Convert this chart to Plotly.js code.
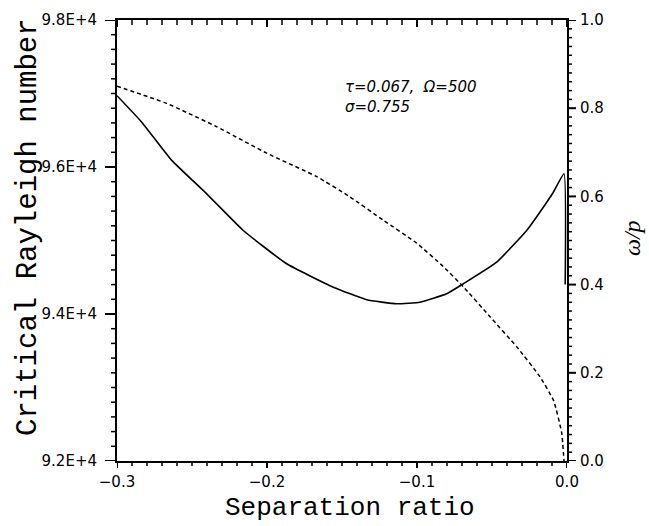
<!DOCTYPE html>
<html><head><meta charset="utf-8">
<script src="https://cdn.plot.ly/plotly-3.0.1.min.js"></script>
<style>html,body{margin:0;padding:0;background:#fff}</style>
</head><body>
<div id="chart" style="width:649px;height:526px"></div>
<script>
// Critical Rayleigh number vs separation ratio (solid, left axis)
const sepRayleigh = [-0.3, -0.2835, -0.2635, -0.2402, -0.2158, -0.1869, -0.1558, -0.1335, -0.1135, -0.098, -0.0802, -0.0691, -0.0469, -0.0269, -0.0135, -0.0091, -0.002, -0.0012];
const rayleigh    = [96970, 96610, 96090, 95635, 95136, 94683, 94365, 94193, 94139, 94161, 94275, 94411, 94705, 95136, 95521, 95657, 95907, 94400];
// Frequency ratio omega/p vs separation ratio (dashed, right axis)
const sepFreq   = [-0.3, -0.2669, -0.2335, -0.2002, -0.1669, -0.1447, -0.1225, -0.1002, -0.0825, -0.0691, -0.0513, -0.0335, -0.018, -0.0088, -0.0035, -0.002];
const freqRatio = [0.850, 0.811, 0.758, 0.698, 0.645, 0.599, 0.546, 0.494, 0.441, 0.395, 0.327, 0.259, 0.191, 0.136, 0.063, 0.0];

// Tick label texts for the Rayleigh axis
const raTickLabels = {'92000': '9.2E+4', '94000': '9.4E+4', '96000': '9.6E+4', '98000': '9.8E+4'};

const tickFont = {family: 'DejaVu Sans', size: 15, color: '#000'};
const hiddenTick = 'rgba(0,0,0,0)';

// Tick marks (axis decoration) built on the axes' own scales
function steps(a, b, s) { const out = []; const n = Math.round((b - a) / s); for (let i = 0; i <= n; i++) out.push({v: a + i * s, major: i % 10 === 0}); return out; }
const shapes = [];
const tw = t => (t.major ? 2 : 1.5);
steps(-0.3, 0, 0.01).forEach(t => {
  shapes.push({type: 'line', xref: 'x', yref: 'paper', ysizemode: 'pixel', yanchor: 0,
    x0: t.v, x1: t.v, y0: 0, y1: t.major ? -7 : -5, line: {color: '#000', width: tw(t)}});
  shapes.push({type: 'line', xref: 'x', yref: 'paper', ysizemode: 'pixel', yanchor: 1,
    x0: t.v, x1: t.v, y0: 0, y1: t.major ? -7 : -5, line: {color: '#000', width: tw(t)}});
});
steps(92000, 98000, 200).forEach(t => {
  shapes.push({type: 'line', xref: 'paper', yref: 'y', xsizemode: 'pixel', xanchor: 0,
    y0: t.v, y1: t.v, x0: 0, x1: t.major ? -12 : -6, line: {color: '#000', width: tw(t)}});
});
steps(0, 1, 0.02).forEach(t => {
  shapes.push({type: 'line', xref: 'paper', yref: 'y2', xsizemode: 'pixel', xanchor: 1,
    y0: t.v, y1: t.v, x0: 0, x1: t.major ? 9 : 5, line: {color: '#000', width: tw(t)}});
});

const traces = [
  {x: sepRayleigh, y: rayleigh, xaxis: 'x', yaxis: 'y', mode: 'lines',
   line: {color: '#000', width: 1.6, shape: 'spline', smoothing: 0.4}, showlegend: false, hoverinfo: 'skip'},
  {x: sepFreq, y: freqRatio, xaxis: 'x', yaxis: 'y2', mode: 'lines',
   line: {color: '#000', width: 1.5, dash: '4px,3px', shape: 'spline', smoothing: 0.4}, showlegend: false, hoverinfo: 'skip'}
];

const layout = {
  width: 649, height: 526,
  margin: {l: 117, r: 82, t: 20, b: 65},
  paper_bgcolor: '#fff', plot_bgcolor: '#fff',
  font: {family: 'DejaVu Sans', color: '#000'},
  xaxis: {range: [-0.3, 0.0], dtick: 0.1, tick0: 0, tickformat: '.1f',
    ticks: 'outside', ticklen: 6, tickcolor: hiddenTick,
    showgrid: false, zeroline: false, showline: true, mirror: true, linecolor: 'black', linewidth: 2,
    tickfont: tickFont},
  yaxis: {range: [92000, 98000], dtick: 2000, tick0: 92000, tickformat: 'd',
    ticks: 'outside', ticklen: 15, tickcolor: hiddenTick,
    labelalias: raTickLabels,
    showgrid: false, zeroline: false, showline: true, linecolor: 'black', linewidth: 2,
    tickfont: tickFont},
  yaxis2: {range: [0, 1], overlaying: 'y', side: 'right', anchor: 'x', dtick: 0.2, tick0: 0, tickformat: '.1f',
    ticks: 'outside', ticklen: 8, tickcolor: hiddenTick,
    showgrid: false, zeroline: false, showline: true, linecolor: 'black', linewidth: 2,
    tickfont: tickFont},
  shapes: shapes,
  annotations: [
    {text: 'Separation ratio', xref: 'paper', yref: 'paper', x: (350-117)/450, y: (461-508)/441,
     xanchor: 'center', yanchor: 'middle', showarrow: false,
     font: {family: 'Liberation Mono', size: 26, color: '#000'}},
    {text: 'Critical Rayleigh number', xref: 'paper', yref: 'paper', x: (29-117)/450, y: (461-227)/441,
     xanchor: 'center', yanchor: 'middle', showarrow: false, textangle: -90,
     font: {family: 'Liberation Mono', size: 29, color: '#000'}},
    {text: '<i>ω/p</i>', xref: 'paper', yref: 'paper', x: (632-117)/450, y: (461-238)/441,
     xanchor: 'center', yanchor: 'middle', showarrow: false, textangle: -90,
     font: {family: 'Liberation Serif', size: 24, color: '#000'}},
    {text: '<i>τ=0.067,  Ω=500</i><br><i>σ=0.755</i>', xref: 'paper', yref: 'paper', x: (343-117)/450, y: (461-97)/441,
     xanchor: 'left', yanchor: 'middle', align: 'left', showarrow: false,
     font: {family: 'DejaVu Sans', size: 15, color: '#000'}}
  ]
};

Plotly.newPlot('chart', traces, layout, {staticPlot: true, displayModeBar: false});
</script>
</body></html>
